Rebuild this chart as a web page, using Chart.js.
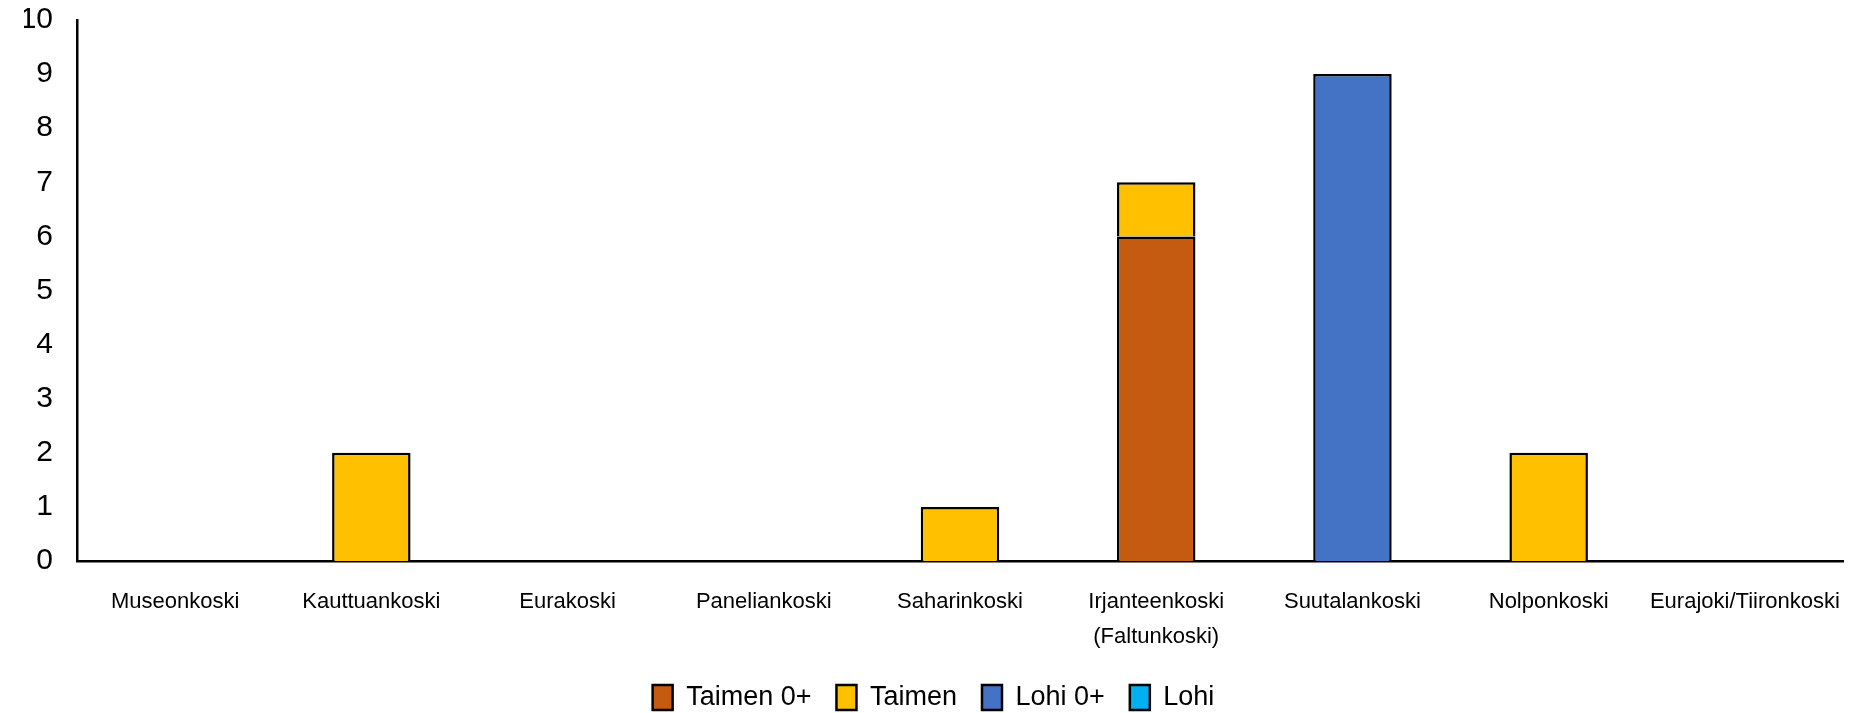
<!DOCTYPE html>
<html><head><meta charset="utf-8">
<script src="https://cdn.jsdelivr.net/npm/chart.js@4.4.1/dist/chart.umd.min.js"></script>
<style>html,body{margin:0;padding:0;background:#fff}#wrap{width:1857px;height:713px}</style>
</head><body><div id="wrap"><canvas id="c" width="1857" height="713"></canvas></div>
<script>
const categories = ['Museonkoski','Kauttuankoski','Eurakoski','Paneliankoski','Saharinkoski',['Irjanteenkoski','(Faltunkoski)'],'Suutalankoski','Nolponkoski','Eurajoki/Tiironkoski'];
const taimen0 = [0,0,0,0,0,6,0,0,0];
const taimen  = [0,2,0,0,1,1,0,2,0];
const lohi0   = [0,0,0,0,0,0,9,0,0];
const lohi    = [0,0,0,0,0,0,0,0,0];
const yTicks  = [0,1,2,3,4,5,6,7,8,9,10];

const mk = (label, data, color) => ({label, data, backgroundColor: color, borderColor:'#000', borderWidth:2.5, borderSkipped:'start', barPercentage:0.4, categoryPercentage:1.0});
new Chart(document.getElementById('c'), {
  type:'bar',
  data:{labels:categories, datasets:[
    mk('Taimen 0+', taimen0, '#C55A11'),
    mk('Taimen', taimen, '#FFC000'),
    mk('Lohi 0+', lohi0, '#4472C4'),
    mk('Lohi', lohi, '#00B0F0')
  ]},
  options:{
    responsive:false, animation:false,
    layout:{padding:{top:20,right:14,left:24,bottom:-8}},
    plugins:{
      tooltip:{enabled:false},
      legend:{position:'bottom', labels:{color:'#000', font:{family:'Liberation Sans', size:27}, boxWidth:20, boxHeight:25, padding:25}}
    },
    scales:{
      x:{stacked:true, grid:{display:false, drawTicks:false}, border:{display:true,color:'#000',width:2.5},
         ticks:{color:'#000', padding:23, maxRotation:0, autoSkip:false, font:{family:'Liberation Sans', size:22, lineHeight:1.6}},
         afterFit:s=>{s.height=98; s.paddingLeft=0; s.paddingRight=0;}},
      y:{stacked:true, min:0, max:10, grid:{display:false, drawTicks:false}, border:{display:true,color:'#000',width:2.5},
         afterBuildTicks:s=>{s.ticks=yTicks.map(v=>({value:v}));},
         ticks:{color:'#000', padding:24, font:{family:'Liberation Sans', size:30}},
         afterFit:s=>{s.width=53; s.paddingTop=0; s.paddingBottom=0;}}
    }
  }
});
</script></body></html>
